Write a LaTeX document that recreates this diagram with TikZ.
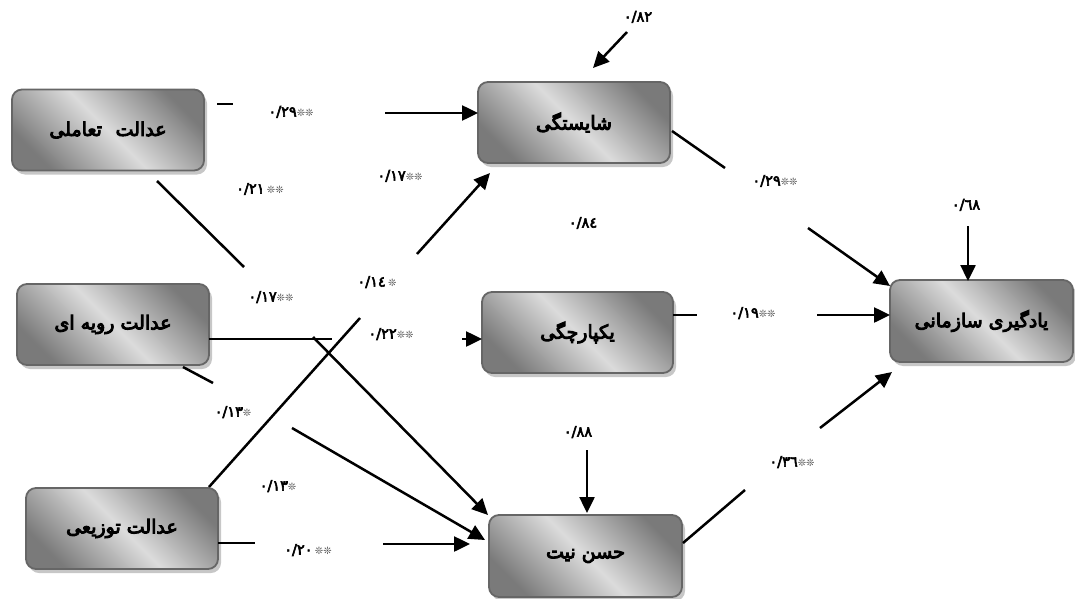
\documentclass[tikz,border=0pt]{standalone}
\usepackage{fontspec}
\TeXXeTstate=1
\newfontfamily\fa[Script=Arabic,FakeBold=5]{DejaVu Sans}
\newfontfamily\nm[FakeBold=4]{DejaVu Sans}
\newfontfamily\nmr{DejaVu Sans}
\usetikzlibrary{arrows.meta,shadows}
\newcommand\stars[1]{{\nmr\fontsize{10}{10}\selectfont\color{black!70}#1}}
\begin{document}
\begin{tikzpicture}[x=1pt,y=-1pt,
  box/.style={rounded corners=10pt, draw=black!60, line width=1.8pt,
    top color=black!52, bottom color=black!52, middle color=black!14, shading angle=-45,
    minimum width=192pt, minimum height=81pt, inner sep=0pt,
    drop shadow={shadow xshift=3pt,shadow yshift=-4pt,fill=black!22,opacity=1},
    font=\fa\fontsize{19}{22}\selectfont},
  seg/.style={line width=2.5pt},
  arr/.style={line width=2.5pt,-{Triangle[length=16pt,width=15pt]}},
  lbl/.style={font=\nm\fontsize{14.5}{15}\selectfont, inner sep=0pt}]
\useasboundingbox (0,0) rectangle (1075,599);
% nodes
\node[box] (A1) at (108,130) {\beginR عدالت\hspace{0.4em} تعاملی\endR};
\node[box] (A2) at (113,324.5) {\beginR عدالت رویه ای\endR};
\node[box] (A3) at (122,528.5) {\beginR عدالت توزیعی\endR};
\node[box] (B1) at (574,122.5) {\beginR شایستگی\endR};
\node[box,minimum width=191pt] (B2) at (577.5,332.5) {\beginR یکپارچگی\endR};
\node[box,minimum width=193pt,minimum height=82pt] (B3) at (585.5,556) {\beginR حسن نیت\endR};
\node[box,minimum width=183pt,minimum height=82pt] (C) at (981.5,321) {\beginR یادگیری سازمانی\endR};
% segment coordinates
\coordinate (a1) at (217,104); \coordinate (a2) at (233,104);
\coordinate (a3) at (385,113); \coordinate (a4) at (478,113);
\coordinate (b1) at (157,181); \coordinate (b2) at (244,267);
\coordinate (b3) at (313,337); \coordinate (b4) at (488,515);
\coordinate (c1) at (209,339); \coordinate (c2) at (332,339);
\coordinate (c3) at (462,339); \coordinate (c4) at (482,339);
\coordinate (d1) at (183,367); \coordinate (d2) at (213,383);
\coordinate (d3) at (292,428); \coordinate (d4) at (485,540);
\coordinate (e1) at (209,487); \coordinate (e2) at (360,318);
\coordinate (e3) at (417,254); \coordinate (e4) at (490,173);
\coordinate (f1) at (218,543); \coordinate (f2) at (255,543);
\coordinate (f3) at (383,544); \coordinate (f4) at (470,544);
\coordinate (g1) at (672,131); \coordinate (g2) at (725,168);
\coordinate (g3) at (808,228); \coordinate (g4) at (890,286);
\coordinate (h1) at (673,315); \coordinate (h2) at (697,315);
\coordinate (h3) at (817,315); \coordinate (h4) at (890,315);
\coordinate (k1) at (683,543); \coordinate (k2) at (745,490);
\coordinate (k3) at (820,428); \coordinate (k4) at (892,372);
\coordinate (eB1) at (627,32); \coordinate (eB1t) at (593,68);
\coordinate (eC) at (968,226); \coordinate (eCt) at (968,281);
\coordinate (eB3) at (587,450); \coordinate (eB3t) at (587,513);
% connectors
\draw[seg] (a1) -- (a2); \draw[arr] (a3) -- (a4);
\draw[seg] (b1) -- (b2); \draw[arr] (b3) -- (b4);
\draw[seg] (c1) -- (c2); \draw[arr] (c3) -- (c4);
\draw[seg] (d1) -- (d2); \draw[arr] (d3) -- (d4);
\draw[seg] (e1) -- (e2); \draw[arr] (e3) -- (e4);
\draw[seg] (f1) -- (f2); \draw[arr] (f3) -- (f4);
\draw[seg] (g1) -- (g2); \draw[arr] (g3) -- (g4);
\draw[seg] (h1) -- (h2); \draw[arr] (h3) -- (h4);
\draw[seg] (k1) -- (k2); \draw[arr] (k3) -- (k4);
\draw[arr] (eB1) -- (eB1t);
\draw[arr] (eC) -- (eCt);
\draw[arr] (eB3) -- (eB3t);
% labels
\node[lbl] (l1) at (291,112) {۰/۲۹\stars{❊❊}};
\node[lbl] (l2) at (260,189) {۰/۲۱\,\stars{❊❊}};
\node[lbl] (l3) at (400,176) {۰/۱۷\stars{❊❊}};
\node[lbl] (l4) at (271,297) {۰/۱۷\stars{❊❊}};
\node[lbl] (l5) at (377,282) {۰/۱٤\,\stars{❊}};
\node[lbl] (l6) at (391,334) {۰/۲۲\stars{❊❊}};
\node[lbl] (l7) at (233,412) {۰/۱۳\stars{❊}};
\node[lbl] (l8) at (278,486) {۰/۱۳\stars{❊}};
\node[lbl] (l9) at (308,550) {۰/۲۰\,\stars{❊❊}};
\node[lbl] (l10) at (775,181) {۰/۲۹\stars{❊❊}};
\node[lbl] (l11) at (753,313) {۰/۱۹\stars{❊❊}};
\node[lbl] (l12) at (792,462) {۰/۳٦\stars{❊❊}};
\node[lbl] (r1) at (638,17) {۰/۸۲};
\node[lbl] (r2) at (966,205) {۰/٦۸};
\node[lbl] (r3) at (578,432) {۰/۸۸};
\node[lbl] (r4) at (583,223) {۰/۸٤};
\end{tikzpicture}
\end{document}
